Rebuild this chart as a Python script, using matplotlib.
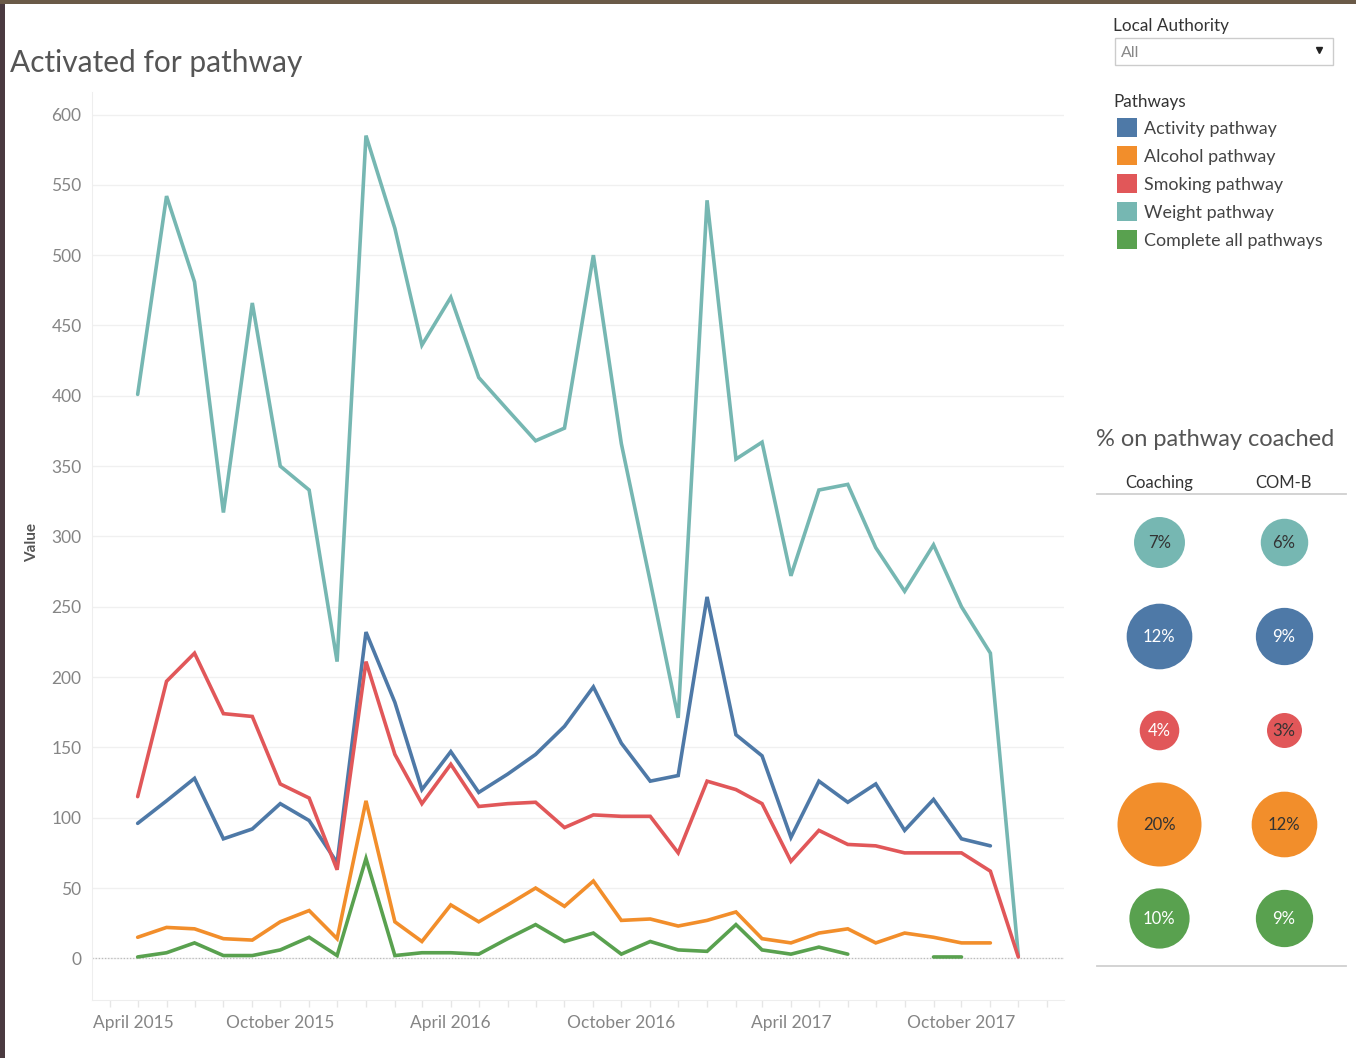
import numpy as np
import pandas as pd
import matplotlib
matplotlib.use('Agg')
import matplotlib.pyplot as plt
import matplotlib.dates as mdates
import matplotlib.transforms as mtransforms
from matplotlib.patches import Rectangle

plt.rcParams['font.family'] = ['Lato', 'DejaVu Sans']

# monthly values, May 2015 .. December 2017
months = pd.date_range('2015-05-01', '2017-12-01', freq='MS')
nan = np.nan
weight = [401, 542, 481, 317, 466, 350, 333, 211, 585, 519, 436, 470, 413, 390, 368, 377,
          500, 366, 268, 171, 539, 355, 367, 272, 333, 337, 292, 261, 294, 250, 217, 2]
activity = [96, 112, 128, 85, 92, 110, 98, 68, 232, 182, 120, 147, 118, 131, 145, 165,
            193, 153, 126, 130, 257, 159, 144, 86, 126, 111, 124, 91, 113, 85, 80, nan]
smoking = [115, 197, 217, 174, 172, 124, 114, 63, 211, 145, 110, 138, 108, 110, 111, 93,
           102, 101, 101, 75, 126, 120, 110, 69, 91, 81, 80, 75, 75, 75, 62, 1]
alcohol = [15, 22, 21, 14, 13, 26, 34, 14, 112, 26, 12, 38, 26, 38, 50, 37,
           55, 27, 28, 23, 27, 33, 14, 11, 18, 21, 11, 18, 15, 11, 11, nan]
complete = [1, 4, 11, 2, 2, 6, 15, 2, 71, 2, 4, 4, 3, 14, 24, 12,
            18, 3, 12, 6, 5, 24, 6, 3, 8, 3, nan, nan, 1, 1, nan, nan]

legend_names = ['Activity pathway', 'Alcohol pathway', 'Smoking pathway',
                'Weight pathway', 'Complete all pathways']

# % on pathway coached (rows: weight, activity, smoking, alcohol, complete)
bubble_cols = ['Coaching', 'COM-B']
coaching_pct = [7, 12, 4, 20, 10]
comb_pct = [6, 9, 3, 12, 9]

BLUE, ORANGE, RED, TEAL, GREEN = '#4E79A7', '#F28E2B', '#E15759', '#76B7B2', '#59A14F'

W, H = 1356, 1058
fig = plt.figure(figsize=(W / 100, H / 100), dpi=100)
fig.patch.set_facecolor('white')

def fx(px):
    return px / W

def fy(py):
    return 1 - py / H

# ---- main line chart ----
ax = fig.add_axes([fx(92), fy(1000), fx(1064) - fx(92), fy(92) - fy(1000)])
series = [(weight, TEAL), (activity, BLUE), (smoking, RED), (alcohol, ORANGE), (complete, GREEN)]
for vals, col in series:
    ax.plot(months, vals, color=col, lw=2.6, solid_capstyle='round', solid_joinstyle='miter', zorder=3)

ax.set_xlim(pd.Timestamp('2015-03-13'), pd.Timestamp('2018-01-19'))
ax.set_ylim(-29.6, 616)
ax.set_yticks(np.arange(0, 601, 50))
ax.grid(axis='y', color='#f0f0f0', lw=1)
ax.axhline(0, color='#bbbbbb', lw=0.9, ls=(0, (1, 1.5)), zorder=2)
for s in ['top', 'right']:
    ax.spines[s].set_visible(False)
for s in ['left', 'bottom']:
    ax.spines[s].set_color('#eeeeee')
ax.tick_params(axis='y', length=0, pad=7.5, labelsize=12.5, labelcolor='#858585')

ax.xaxis.set_major_locator(mdates.MonthLocator(bymonth=[4, 10]))
ax.xaxis.set_minor_locator(mdates.MonthLocator())
ax.xaxis.set_major_formatter(mdates.DateFormatter('%B %Y'))
ax.tick_params(axis='x', which='both', length=5, color='#e6e6e6', width=1)
ax.tick_params(axis='x', which='major', pad=6, labelsize=12.5, labelcolor='#858585')

# first label is pushed right by Tableau so it is not clipped
fig.canvas.draw()
first = ax.get_xticklabels()[0]
first.set_horizontalalignment('left')
first.set_transform(first.get_transform() + mtransforms.ScaledTranslation(-17 / 100, 0, fig.dpi_scale_trans))

fig.text(fx(32), fy(543), 'Value', rotation=90, ha='center', va='center',
         fontsize=11, color='#555555', fontweight='bold')
fig.text(fx(10), fy(63), 'Activated for pathway', ha='left', va='center',
         fontsize=21.5, color='#555555')

# ---- overlay in pixel coords for the side panel ----
ov = fig.add_axes([0, 0, 1, 1])
ov.set_xlim(0, W)
ov.set_ylim(H, 0)
ov.axis('off')

# screenshot edges
ov.add_patch(Rectangle((0, 0), 5, H, color='#4a3a40', lw=0))
ov.add_patch(Rectangle((0, 0), W, 4, color='#6a5a48', lw=0))

ov.text(1113, 26, 'Local Authority', fontsize=12.3, color='#333333', va='center')
ov.add_patch(Rectangle((1115, 38), 218, 27, facecolor='white', edgecolor='#cccccc', lw=1))
ov.text(1121, 53, 'All', fontsize=11.5, color='#888888', va='center')
ov.plot([1319], [50], marker='v', color='#222222', ms=5)

ov.text(1113, 102, 'Pathways', fontsize=12.3, color='#333333', va='center')
for i, (name, col) in enumerate(zip(legend_names, [BLUE, ORANGE, RED, TEAL, GREEN])):
    yc = 127 + 28 * i
    ov.add_patch(Rectangle((1117, yc - 9.5), 20, 19, color=col, lw=0))
    ov.text(1144, yc + 2, name, fontsize=12.9, color='#444444', va='center')

ov.text(1096, 440, '% on pathway coached', fontsize=17, color='#555555', va='center')
ov.text(1159, 483, bubble_cols[0], fontsize=12, color='#333333', ha='center', va='center')
ov.text(1283, 483, bubble_cols[1], fontsize=12, color='#333333', ha='center', va='center')
ov.plot([1097, 1346], [494, 494], color='#d0d0d0', lw=1.3)
ov.plot([1097, 1346], [966, 966], color='#d0d0d0', lw=1.3)

# ---- bubbles ----
bx = fig.add_axes([fx(1097), fy(966), fx(1346) - fx(1097), fy(494) - fy(966)])
bx.set_xlim(-0.5, 1.5)
bx.set_ylim(4.51, -0.51)
bx.axis('off')
row_colors = [TEAL, BLUE, RED, ORANGE, GREEN]
coach_txt = ['#333333', 'white', 'white', '#333333', 'white']
comb_txt = ['#333333', 'white', '#333333', '#333333', 'white']
for col_i, (pcts, tcols) in enumerate([(coaching_pct, coach_txt), (comb_pct, comb_txt)]):
    for r, v in enumerate(pcts):
        d_px = np.sqrt(196 + 343 * v)
        bx.scatter(col_i, r, s=(d_px * 0.72) ** 2, color=row_colors[r], lw=0)
        bx.text(col_i, r + 0.015, '%d%%' % v, ha='center', va='center', fontsize=12, color=tcols[r])

fig.savefig('out.png', dpi=100)
